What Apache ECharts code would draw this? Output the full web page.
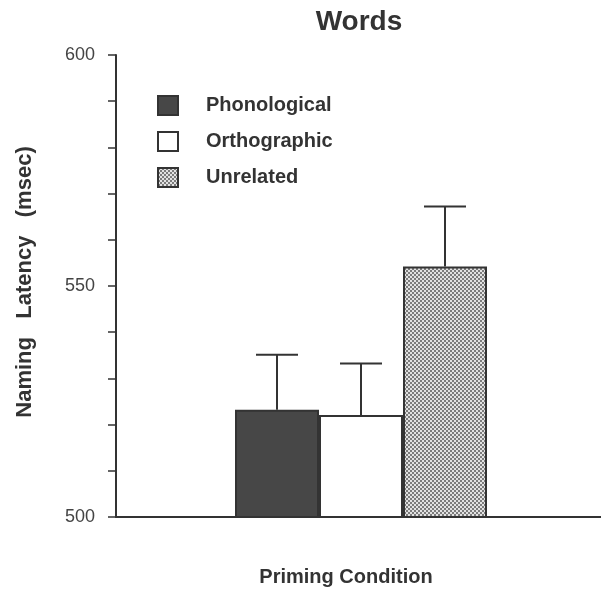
<!DOCTYPE html>
<html>
<head>
<meta charset="utf-8">
<script src="https://cdn.jsdelivr.net/npm/echarts@6/dist/echarts.min.js"></script>
<style>
html,body{margin:0;padding:0;background:#fff;}
#chart{width:601px;height:589px;}
</style>
</head>
<body>
<div id="chart"></div>
<script>
var categories = ['Phonological', 'Orthographic', 'Unrelated'];
var means = [523.2, 522.1, 554.2];
var errors = [11.9, 11.1, 13.0];
var yTicks = [500, 550, 600];

var FONT = '"Liberation Sans", Arial, Helvetica, sans-serif';
var INK = '#333333';

function makePattern() {
  var c = document.createElement('canvas');
  c.width = 4; c.height = 4;
  var g = c.getContext('2d');
  g.fillStyle = '#e2e2e2';
  g.fillRect(0, 0, 4, 4);
  g.fillStyle = '#7c7c7c';
  g.fillRect(0, 0, 2, 2);
  g.fillRect(2, 2, 2, 2);
  return { image: c, repeat: 'repeat' };
}

var fills = ['#474747', '#ffffff', makePattern()];

var chart = echarts.init(document.getElementById('chart'), null, { renderer: 'canvas' });

var barSeries = categories.map(function (name, i) {
  return {
    name: name,
    type: 'bar',
    xAxisIndex: 1,
    yAxisIndex: 1,
    stack: 'all',
    barWidth: '100%',
    itemStyle: { color: fills[i], borderColor: INK, borderWidth: 2 },
    data: categories.map(function (c, j) { return j === i ? means[i] : '-'; }),
    z: 2
  };
});

var errData = categories.map(function (c, i) { return [i, means[i], errors[i]]; });

var option = {
  animation: false,
  backgroundColor: '#ffffff',
  grid: [
    { left: 116, right: 0, top: 55, bottom: 72 },
    { left: 235, width: 252, top: 55, bottom: 72 }
  ],
  xAxis: [
    { gridIndex: 0, type: 'value', min: 0, max: 1,
      axisLine: { show: true, onZero: false, lineStyle: { color: INK, width: 2 } },
      axisTick: { show: false }, axisLabel: { show: false }, splitLine: { show: false } },
    { gridIndex: 1, type: 'category', data: categories, show: false }
  ],
  yAxis: [
    { gridIndex: 0, type: 'value', min: yTicks[0], max: yTicks[yTicks.length - 1], interval: 10,
      axisLine: { show: true, lineStyle: { color: INK, width: 2 } },
      axisTick: { show: true, length: 8, inside: false, lineStyle: { color: INK, width: 1.5 } },
      axisLabel: { margin: 21, color: '#444', fontFamily: FONT, fontSize: 18,
        formatter: function (v) { return yTicks.indexOf(v) >= 0 ? String(v) : ''; } },
      splitLine: { show: false } },
    { gridIndex: 1, type: 'value', min: yTicks[0], max: yTicks[yTicks.length - 1], show: false }
  ],
  legend: {
    orient: 'vertical',
    left: 157,
    top: 95,
    padding: 0,
    itemWidth: 20,
    itemHeight: 19,
    itemGap: 15,
    icon: 'rect',
    data: categories,
    textStyle: { fontFamily: FONT, fontSize: 20, fontWeight: 'bold', color: INK, padding: [0, 0, 0, 23] }
  },
  graphic: [
    { type: 'text', x: 359, y: 22,
      style: { text: 'Words', font: 'bold 28px ' + FONT, fill: INK, textAlign: 'center', textVerticalAlign: 'middle' } },
    { type: 'text', x: 346, y: 577,
      style: { text: 'Priming Condition', font: 'bold 20px ' + FONT, fill: INK, textAlign: 'center', textVerticalAlign: 'middle' } },
    { type: 'text', x: 25, y: 282, rotation: Math.PI / 2,
      style: { text: 'Naming   Latency   (msec)', font: 'bold 22px ' + FONT, fill: INK, textAlign: 'center', textVerticalAlign: 'middle' } }
  ],
  series: barSeries.concat([{
    type: 'custom',
    name: 'error',
    xAxisIndex: 1,
    yAxisIndex: 1,
    z: 3,
    data: errData,
    renderItem: function (params, api) {
      var idx = api.value(0), m = api.value(1), e = api.value(2);
      var base = api.coord([idx, m]);
      var top = api.coord([idx, m + e]);
      var hw = 21;
      var st = { stroke: INK, lineWidth: 2 };
      return { type: 'group', children: [
        { type: 'line', shape: { x1: base[0], y1: base[1], x2: top[0], y2: top[1] }, style: st },
        { type: 'line', shape: { x1: top[0] - hw, y1: top[1], x2: top[0] + hw, y2: top[1] }, style: st }
      ] };
    }
  }])
};

chart.setOption(option);
</script>
</body>
</html>
